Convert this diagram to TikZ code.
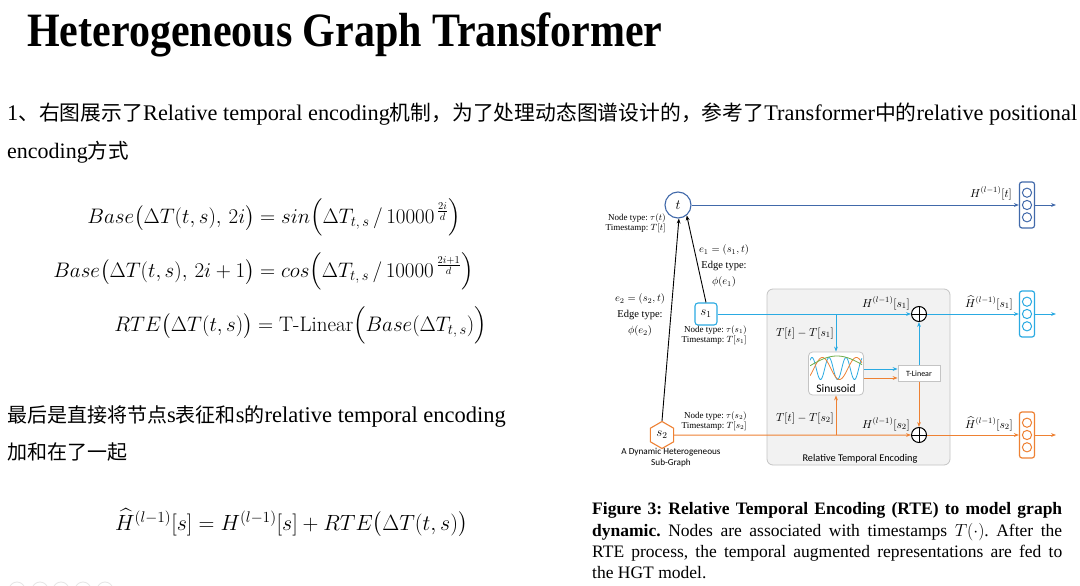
\RequirePackage{fix-cm}
\documentclass[tikz,border=0pt]{standalone}
\usepackage{fontspec}
\usepackage{amsmath}
\newfontfamily\cjk{Noto Sans CJK SC}
\newfontfamily\lserif{Liberation Serif}
\newfontfamily\lsans{Carlito}
\usetikzlibrary{arrows.meta,shapes.geometric}
\definecolor{tcol}{HTML}{4169AA}
\definecolor{scol}{HTML}{2AAAE2}
\definecolor{ocol}{HTML}{EE8133}
\definecolor{gcol}{HTML}{70AD47}
\definecolor{boxfill}{HTML}{F2F2F2}
\definecolor{boxline}{HTML}{C4C4C4}
\newcommand{\fsz}[2]{\fontsize{#1}{#2}\selectfont}
\newcommand{\zh}{\cjk\fontsize{20.5}{24}\selectfont}
\newcommand{\zhb}{\cjk\fontsize{20}{24}\selectfont}
\newcommand{\en}{\lserif\fontsize{22}{24}\selectfont}
\newcommand{\enb}{\lserif\fontsize{22.5}{24}\selectfont}
\frenchspacing
\begin{document}
\begin{tikzpicture}[x=1pt,y=-1pt,>={Stealth[length=5pt,width=3.8pt]},
  txt/.style={anchor=base west, inner sep=0},
  eqL/.style={anchor=base east, inner sep=0, font=\fsz{21}{25}},
  eqR/.style={anchor=base west, inner sep=0, font=\fsz{21}{25}},
  captxt/.style={anchor=base west, inner sep=0, font=\lserif\fsz{17.5}{21}},
  dlbl/.style={inner sep=0, align=right, font=\lserif\fsz{9}{9.8}},
  mlbl/.style={inner sep=0, anchor=base, font=\fsz{11.5}{12}},
  elbl/.style={inner sep=0, align=center, font=\lserif\fsz{10.5}{16}},
  vec/.style={rounded corners=2.5, minimum width=15, minimum height=46, line width=1.2pt, inner sep=0},
  flow/.style={line width=1pt, ->},
  oplus/.style={circle, draw=black, line width=1pt, minimum size=15, inner sep=0, fill=white,
    path picture={\draw[black, line width=1pt] (path picture bounding box.north) -- (path picture bounding box.south) (path picture bounding box.west) -- (path picture bounding box.east);}}
]
\useasboundingbox (0,0) rectangle (1080,586);
\fill[white] (0,0) rectangle (1080,586);

% ---------- left text ----------
\node[txt, font=\lserif\bfseries\fsz{42}{42}] (title) at (27,47) {\scalebox{1}[1.14]{Heterogeneous Graph Transformer}};
\node[txt] (p1) at (7,121) {\resizebox{1070pt}{!}{\en 1\zh 、右图展示了\en Relative temporal encoding\zh 机制，为了处理动态图谱设计的，参考了\en Transformer\zh 中的\en relative positional}};
\node[txt] (p2) at (7,158) {\en encoding\zh 方式};

\node[eqL] (e1l) at (255,223) {$Base\bigl(\Delta T(t,s),\,2i\bigr)$};
\node[eqR] (e1r) at (260,223) {$= sin\Bigl(\Delta T_{t,\,s}\,/\,10000^{\,\frac{2i}{d}}\Bigr)$};
\node[eqL] (e2l) at (255,277) {$Base\bigl(\Delta T(t,s),\,2i+1\bigr)$};
\node[eqR] (e2r) at (260,277) {$= cos\Bigl(\Delta T_{t,\,s}\,/\,10000^{\,\frac{2i+1}{d}}\Bigr)$};
\node[eqL] (e3l) at (253,331) {$RTE\bigl(\Delta T(t,s)\bigr)$};
\node[eqR] (e3r) at (258,331) {$= \mbox{T-Linear}\Bigl(Base(\Delta T_{t,\,s})\Bigr)$};

\node[txt] (p3) at (7,422) {\zhb 最后是直接将节点\enb s\zhb 表征和\enb s\zhb 的\enb relative temporal encoding};
\node[txt] (p4) at (7,459) {\zhb 加和在了一起};
\node[txt, font=\fsz{22}{26}] (e4) at (115,530) {$\widehat{H}^{(l-1)}[s] = H^{(l-1)}[s] + RTE\bigl(\Delta T(t,s)\bigr)$};

% ---------- caption ----------
\node[captxt] (c1) at (592,514) {\makebox[470pt][s]{\bfseries Figure 3: Relative Temporal Encoding (RTE) to model graph}};
\node[captxt] (c2) at (592,536) {\makebox[470pt][s]{\textbf{dynamic.} Nodes are associated with timestamps $T(\cdot)$. After the}};
\node[captxt] (c3) at (592,557) {\makebox[470pt][s]{RTE process, the temporal augmented representations are fed to}};
\node[captxt] (c4) at (592,578) {the HGT model.};

% ---------- diagram ----------
\node[draw=boxline, fill=boxfill, rounded corners=6, minimum width=183, minimum height=176, line width=0.8pt, inner sep=0] (rte) at (858.5,377) {};
\node[font=\lsans\fsz{10.3}{12}, anchor=base, inner sep=0] (rtel) at (860,461) {Relative Temporal Encoding};

\node[circle, draw=tcol, line width=1.1pt, fill=white, minimum size=26, inner sep=0, font=\fsz{14}{14}] (t) at (678,205) {$t$};
\node[dlbl, anchor=north east] (tinfo) at (666,214) {Node type: $\tau(t)$\\Timestamp: $T[t]$};

\node[draw=scol, line width=1.1pt, rounded corners=3, minimum size=22, inner sep=0, fill=white, font=\fsz{13}{13}] (s1) at (706,314) {$s_1$};
\node[dlbl, anchor=north east] (s1info) at (747,326) {Node type: $\tau(s_1)$\\Timestamp: $T[s_1]$};

\node[regular polygon, regular polygon sides=6, shape border rotate=30, draw=ocol, line width=1.1pt, fill=white, minimum size=27, inner sep=0, font=\fsz{13}{13}] (s2) at (662,435) {$s_2$};
\node[dlbl, anchor=south east] (s2info) at (747,431) {Node type: $\tau(s_2)$\\Timestamp: $T[s_2]$};
\node[font=\lsans\fsz{9.2}{11}, align=center, anchor=north, inner sep=0] (sgl) at (671,448) {A Dynamic Heterogeneous\\Sub-Graph};

\draw[line width=0.9pt, ->] (s1.north) -- (t.-50);
\draw[line width=0.9pt, ->] (s2.north) -- (t.-86);
\node[elbl] (e1lab) at (724,266) {$e_1 = (s_1,t)$\\Edge type:\\$\phi(e_1)$};
\node[elbl] (e2lab) at (640,315) {$e_2 = (s_2,t)$\\Edge type:\\$\phi(e_2)$};

% sinusoid and T-Linear
\node[draw=boxline, fill=white, rounded corners=4, minimum width=55, minimum height=43, inner sep=0, line width=0.8pt] (sin) at (836,373.5) {};
\begin{scope}
\clip (810,354) rectangle (862,382);
\draw[scol, line width=0.8pt] plot[domain=0:52, samples=120] ({\x+810}, {368.5-11*cos((\x-2)/17*360)});
\draw[ocol, line width=0.8pt] plot[domain=0:52, samples=100] ({\x+810}, {368.5-11*sin((\x-2)/34*360-20)});
\draw[gcol, line width=0.8pt] plot[domain=0:52, samples=60] ({\x+810}, {367-11*sin((\x+2)/58*180)});
\end{scope}
\node[font=\lsans\fsz{11.5}{12}, anchor=base, inner sep=0] (sinl) at (836,392) {Sinusoid};
\node[draw=boxline, fill=white, minimum width=42, minimum height=16, inner sep=0, font=\lsans\fsz{8}{8}, line width=0.7pt] (tl) at (919,373.5) {T-Linear};

\node[oplus] (op1) at (919,314) {};
\node[oplus] (op2) at (919,435) {};

\coordinate (b1) at (836,314);
\coordinate (b2) at (836,435);
\draw[flow, scol] (s1.east) -- (op1.west);
\draw[flow, scol] (b1) -- (sin.north);
\draw[flow, ocol] (s2.east) -- (op2.west);
\draw[flow, ocol] (b2) -- (sin.south);
\draw[flow, scol] ([yshift=4.5pt]sin.east) -- ([yshift=4.5pt]tl.west);
\draw[flow, ocol] ([yshift=-4.5pt]sin.east) -- ([yshift=-4.5pt]tl.west);
\draw[flow, scol] (tl.north) -- (op1.south);
\draw[flow, ocol] (tl.south) -- (op2.north);

\node[mlbl] (l1) at (805,336) {$T[t]-T[s_1]$};
\node[mlbl] (l2) at (805,421) {$T[t]-T[s_2]$};
\node[mlbl] (h1) at (886,307) {$H^{(l-1)}[s_1]$};
\node[mlbl] (h2) at (886,428) {$H^{(l-1)}[s_2]$};

% output vectors
\node[vec, draw=tcol] (tv) at (1027,205) {};
\node[vec, draw=scol] (s1v) at (1027,314) {};
\node[vec, draw=ocol] (s2v) at (1027,435) {};
\foreach \v/\c in {tv/tcol, s1v/scol, s2v/ocol}{
  \foreach \d in {-12.3,0,12.3}
    \draw[\c, line width=1pt] ([yshift=\d pt]\v.center) circle (4.6);
}
\coordinate (tout) at (1056,205);
\coordinate (s1out) at (1056,314);
\coordinate (s2out) at (1056,435);
\draw[flow, tcol] (t.east) -- (tv.west);
\draw[flow, tcol] (tv.east) -- (tout);
\draw[flow, scol] (op1.east) -- (s1v.west);
\draw[flow, scol] (s1v.east) -- (s1out);
\draw[flow, ocol] (op2.east) -- (s2v.west);
\draw[flow, ocol] (s2v.east) -- (s2out);
\node[mlbl] (ht) at (991,197) {$H^{(l-1)}[t]$};
\node[mlbl] (hh1) at (989,307) {$\widehat{H}^{(l-1)}[s_1]$};
\node[mlbl] (hh2) at (989,428) {$\widehat{H}^{(l-1)}[s_2]$};

% faint marks bottom-left
\foreach \x in {17,40,61,83,105} \draw[black!10, line width=0.8pt] (\x,590) circle (8);
\end{tikzpicture}
\end{document}
